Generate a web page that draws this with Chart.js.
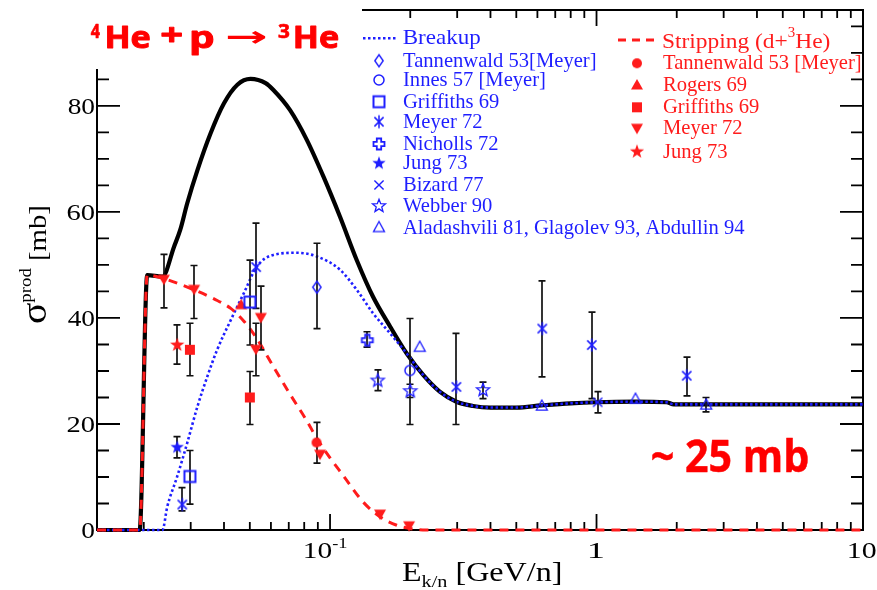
<!DOCTYPE html>
<html>
<head>
<meta charset="utf-8">
<title>4He + p -> 3He production cross section</title>
<script src="https://cdn.jsdelivr.net/npm/chart.js@4.4.1/dist/chart.umd.min.js"></script>
<style>
    html, body { margin: 0; padding: 0; background: #fff; }
    #wrap { position: relative; width: 877px; height: 590px; }
</style>
</head>
<body>
<div id="wrap"><canvas id="xsChart"></canvas></div>
<script>
// Axis ranges: kinetic energy per nucleon (GeV/n), cross section (mb)
const X_MIN = 0.01335;
const X_MAX = 10;
const Y_MIN = 0;
const Y_MAX = 98.1;

const X_MAJOR = [0.1, 1, 10];
const X_MAJOR_LABELS = [['10', '-1'], ['1', ''], ['10', '']];
const X_MINOR = [0.02, 0.03, 0.04, 0.05, 0.06, 0.07, 0.08, 0.09,
                 0.2, 0.3, 0.4, 0.5, 0.6, 0.7, 0.8, 0.9,
                 2, 3, 4, 5, 6, 7, 8, 9];
const Y_MAJOR = [0, 20, 40, 60, 80];
const Y_MAJOR_LABELS = ['0', '20', '40', '60', '80'];
const Y_MINOR = [5, 10, 15, 25, 30, 35, 45, 50, 55, 65, 70, 75, 85, 90, 95];

// Model curves
const TOTAL_E = [0.01335, 0.0193, 0.0206, 0.0235, 0.0260, 0.0274, 0.0291, 0.0318, 0.0356, 0.0400,
                 0.0449, 0.0503, 0.0573, 0.0613, 0.0708, 0.0818, 0.0944, 0.109, 0.126, 0.145,
                 0.168, 0.194, 0.224, 0.258, 0.298, 0.344, 0.40, 0.50, 0.62, 0.80,
                 1.0, 1.4, 1.83, 1.95, 3.0, 10];
const TOTAL_SIGMA = [0, 0, 48.1, 47.8, 53.5, 56.6, 61.6, 67.9, 74.8, 80.5,
                     84.0, 85.1, 84.3, 83.0, 79.2, 73.6, 66.7, 59.1, 50.9, 44.0,
                     38.4, 33.3, 29.2, 26.1, 24.2, 23.4, 23.1, 23.1, 23.5, 23.9,
                     24.1, 24.2, 24.1, 23.7, 23.7, 23.7];

const BREAKUP_E = [0.01335, 0.0235, 0.0245, 0.0267, 0.0291, 0.0318, 0.0346, 0.0377, 0.0424, 0.0475,
                   0.0533, 0.0613, 0.075, 0.0892, 0.109, 0.126, 0.145, 0.168, 0.194, 0.224,
                   0.258, 0.298, 0.344, 0.40, 0.50, 0.62, 0.80, 1.0, 1.4, 1.83,
                   1.95, 3.0, 10];
const BREAKUP_SIGMA = [0, 0, 4.4, 10.1, 16.4, 23.3, 28.9, 34.0, 39.6, 44.7,
                       49.8, 51.9, 52.3, 51.6, 49.1, 45.3, 40.9, 37.1, 33.3, 29.2,
                       26.1, 24.2, 23.4, 23.1, 23.1, 23.5, 23.9, 24.1, 24.2, 24.1,
                       23.7, 23.7, 23.7];

const STRIP_E = [0.01335, 0.0193, 0.0206, 0.0235, 0.0309, 0.0367, 0.0424, 0.0475, 0.0533, 0.0613,
                 0.0708, 0.0818, 0.0892, 0.100, 0.112, 0.133, 0.154, 0.178, 0.199, 0.223, 10];
const STRIP_SIGMA = [0, 0, 48.1, 47.5, 45.3, 43.6, 41.8, 39.4, 36.0, 30.8,
                     25.6, 20.6, 17.3, 13.6, 10.3, 5.3, 2.5, 0.9, 0.3, 0, 0];

// Measurements: [E, sigma, low, high] (low/high null when no error bar)
const B_TANNENWALD = [[0.0892, 45.8, 38.0, 54.1]];
const B_INNES = [[0.1994, 30.1, 19.9, 39.9]];
const B_GRIFFITHS = [[0.0298, 10.1, 4.9, 15.0], [0.050, 43.0, 34.9, 50.9]];
const B_MEYER = [[0.0279, 4.8, 3.6, 8.0], [0.0528, 49.6, 41.8, 57.9], [0.298, 27.0, 19.9, 37.1],
                 [0.626, 38.0, 28.9, 47.0], [0.960, 34.9, 24.8, 41.1], [2.18, 29.1, 25.3, 32.6]];
const B_NICHOLLS = [[0.138, 35.8, 34.5, 37.4]];
const B_JUNG = [[0.0267, 15.6, 13.6, 17.6]];
const B_BIZARD = [[1.01, 24.1, 22.1, 26.1]];
const B_WEBBER = [[0.151, 28.2, 26.3, 30.2], [0.200, 26.2, 25.0, 27.5], [0.375, 26.4, 24.8, 27.9]];
const B_ALADASHVILI = [[0.217, 34.5, null, null], [0.623, 23.4, null, null],
                       [1.40, 24.7, null, null], [2.58, 23.6, 22.3, 25.0]];

const R_TANNENWALD = [[0.089, 16.5, 12.6, 20.3]];
const R_ROGERS = [[0.0464, 42.5, null, null]];
const R_GRIFFITHS = [[0.0298, 34.0, 29.1, 39.0], [0.050, 25.0, 19.9, 29.9]];
const R_MEYER = [[0.0238, 47.3, 41.9, 52.0], [0.0309, 45.4, 39.9, 49.9], [0.0527, 34.1, 29.1, 39.0],
                 [0.055, 40.1, 34.0, 46.0], [0.0917, 14.3, null, null], [0.154, 3.0, null, null],
                 [0.198, 0.8, null, null]];
const R_JUNG = [[0.0267, 34.9, 31.3, 38.7]];

const BLUE = '#1e1eff';
const RED = '#ff1c1c';
const SERIF = '"Liberation Serif", "Times New Roman", serif';
const SANS = '"Open Sans", "Liberation Sans", sans-serif';

// --- marker glyphs ---
const makeMarker = (draw) => {
    const c = document.createElement('canvas');
    c.width = 24;
    c.height = 24;
    const g = c.getContext('2d');
    g.translate(12, 12);
    g.lineJoin = 'miter';
    draw(g);
    return c;
};
const shape = (g, pts) => {
    g.beginPath();
    pts.forEach(([x, y], i) => (i ? g.lineTo(x, y) : g.moveTo(x, y)));
    g.closePath();
};
const starPts = (ro, ri) => {
    const p = [];
    for (let i = 0; i < 10; i++) {
        const r = i % 2 ? ri : ro;
        const a = -Math.PI / 2 + i * Math.PI / 5;
        p.push([r * Math.cos(a), r * Math.sin(a)]);
    }
    return p;
};
const spokes = (g, angles, r) => {
    g.beginPath();
    angles.forEach(d => {
        const a = d * Math.PI / 180;
        g.moveTo(-r * Math.cos(a), -r * Math.sin(a));
        g.lineTo(r * Math.cos(a), r * Math.sin(a));
    });
};
const stroke = (g, color, w) => { g.strokeStyle = color; g.lineWidth = w; g.stroke(); };
const fill = (g, color) => { g.fillStyle = color; g.fill(); };
const crossPts = (a, l) => [[-a, -l], [a, -l], [a, -a], [l, -a], [l, a], [a, a], [a, l], [-a, l],
                            [-a, a], [-l, a], [-l, -a], [-a, -a]];

const MARKERS = {
    diamond: makeMarker(g => { shape(g, [[0, -6], [4.2, 0], [0, 6], [-4.2, 0]]); stroke(g, BLUE, 1.4); }),
    ring: makeMarker(g => { g.beginPath(); g.arc(0, 0, 5, 0, 2 * Math.PI); stroke(g, BLUE, 1.5); }),
    box: makeMarker(g => { g.beginPath(); g.rect(-5.5, -5.5, 11, 11); stroke(g, BLUE, 2); }),
    asterisk: makeMarker(g => { spokes(g, [90, 45, 135], 6.5); stroke(g, BLUE, 1.5); }),
    plusOpen: makeMarker(g => { shape(g, crossPts(2.2, 5.5)); stroke(g, BLUE, 1.8); }),
    starFilled: makeMarker(g => { shape(g, starPts(7, 2.9)); fill(g, BLUE); }),
    xCross: makeMarker(g => { spokes(g, [45, 135], 6.5); stroke(g, BLUE, 1.4); }),
    starOpen: makeMarker(g => { shape(g, starPts(6.8, 2.9)); stroke(g, BLUE, 1.3); }),
    triOpen: makeMarker(g => { shape(g, [[0, -6], [5.5, 4.2], [-5.5, 4.2]]); stroke(g, BLUE, 1.3); }),
    dotRed: makeMarker(g => { g.beginPath(); g.arc(0, 0, 5, 0, 2 * Math.PI); fill(g, RED); }),
    triRed: makeMarker(g => { shape(g, [[0, -6], [6, 4.5], [-6, 4.5]]); fill(g, RED); }),
    boxRed: makeMarker(g => { g.beginPath(); g.rect(-5, -5, 10, 10); fill(g, RED); }),
    triDownRed: makeMarker(g => { shape(g, [[0, 6], [6, -4.5], [-6, -4.5]]); fill(g, RED); }),
    starRed: makeMarker(g => { shape(g, starPts(7.5, 3)); fill(g, RED); })
};

// --- series ---
const toPoints = (xs, ys) => xs.map((x, i) => ({ x, y: ys[i] }));

const curves = [
    { label: 'Total', data: toPoints(TOTAL_E, TOTAL_SIGMA), borderColor: '#000', borderWidth: 4.2, order: 3 },
    { label: 'Breakup', data: toPoints(BREAKUP_E, BREAKUP_SIGMA), borderColor: BLUE, borderWidth: 2.6,
      borderDash: [2.5, 2.5], order: 2 },
    { label: 'Stripping (d+3He)', data: toPoints(STRIP_E, STRIP_SIGMA), borderColor: RED, borderWidth: 3,
      borderDash: [9, 7], order: 1 }
].map(c => ({ ...c, showLine: true, pointRadius: 0, cubicInterpolationMode: 'monotone', clip: false, fill: false }));

const measured = [
    { label: 'Tannenwald 53[Meyer]', rows: B_TANNENWALD, marker: MARKERS.diamond, side: 'b' },
    { label: 'Innes 57 [Meyer]', rows: B_INNES, marker: MARKERS.ring, side: 'b' },
    { label: 'Griffiths 69', rows: B_GRIFFITHS, marker: MARKERS.box, side: 'b' },
    { label: 'Meyer 72', rows: B_MEYER, marker: MARKERS.asterisk, side: 'b' },
    { label: 'Nicholls 72', rows: B_NICHOLLS, marker: MARKERS.plusOpen, side: 'b' },
    { label: 'Jung 73', rows: B_JUNG, marker: MARKERS.starFilled, side: 'b' },
    { label: 'Bizard 77', rows: B_BIZARD, marker: MARKERS.xCross, side: 'b' },
    { label: 'Webber 90', rows: B_WEBBER, marker: MARKERS.starOpen, side: 'b' },
    { label: 'Aladashvili 81, Glagolev 93, Abdullin 94', rows: B_ALADASHVILI, marker: MARKERS.triOpen, side: 'b' },
    { label: 'Tannenwald 53 [Meyer]', rows: R_TANNENWALD, marker: MARKERS.dotRed, side: 'r' },
    { label: 'Rogers 69', rows: R_ROGERS, marker: MARKERS.triRed, side: 'r' },
    { label: 'Griffiths 69', rows: R_GRIFFITHS, marker: MARKERS.boxRed, side: 'r' },
    { label: 'Meyer 72', rows: R_MEYER, marker: MARKERS.triDownRed, side: 'r' },
    { label: 'Jung 73', rows: R_JUNG, marker: MARKERS.starRed, side: 'r' }
];

const pointSets = measured.map(s => ({
    label: s.label,
    data: s.rows.map(r => ({ x: r[0], y: r[1] })),
    rows: s.rows,
    pointStyle: s.marker,
    pointRadius: 6,
    showLine: false,
    clip: false,
    order: 0
}));

const STRIP_INDEX = 2;

// --- text helper: draws runs of text, optionally stretched so the ink spans x0..x1 ---
const drawRuns = (ctx, runs, x0, baseline, color, x1, heavy = 0) => {
    ctx.save();
    ctx.textBaseline = 'alphabetic';
    ctx.textAlign = 'left';
    let adv = 0;
    let inkStart = 0;
    let inkEnd = 0;
    const widths = runs.map((r, i) => {
        ctx.font = r.font;
        const m = ctx.measureText(r.text);
        if (i === 0) inkStart = -m.actualBoundingBoxLeft;
        if (i === runs.length - 1) inkEnd = adv + m.actualBoundingBoxRight;
        adv += m.width;
        return m.width;
    });
    const sx = x1 !== undefined ? (x1 - x0) / (inkEnd - inkStart) : 1;
    ctx.translate(x0 - inkStart * sx, baseline);
    ctx.scale(sx, 1);
    ctx.fillStyle = color;
    ctx.strokeStyle = color;
    ctx.lineWidth = heavy;
    ctx.lineJoin = 'round';
    let cx = 0;
    runs.forEach((r, i) => {
        ctx.font = r.font;
        ctx.fillText(r.text, cx, r.dy || 0);
        if (heavy) ctx.strokeText(r.text, cx, r.dy || 0);
        cx += widths[i];
    });
    ctx.restore();
    return adv * sx;
};

// --- frame, inward ticks and tick labels ---
const axesFrame = {
    id: 'axesFrame',
    beforeDatasetsDraw(chart) {
        const { ctx, chartArea: a, scales: { x, y } } = chart;
        ctx.save();
        ctx.strokeStyle = '#000';
        ctx.lineWidth = 2;
        ctx.strokeRect(a.left, a.top, a.right - a.left, a.bottom - a.top);

        ctx.lineWidth = 1.8;
        ctx.beginPath();
        const xTick = (v, len) => {
            const px = x.getPixelForValue(v);
            ctx.moveTo(px, a.bottom); ctx.lineTo(px, a.bottom - len);
            ctx.moveTo(px, a.top); ctx.lineTo(px, a.top + len);
        };
        const yTick = (v, len) => {
            const py = y.getPixelForValue(v);
            ctx.moveTo(a.left, py); ctx.lineTo(a.left + len, py);
            ctx.moveTo(a.right, py); ctx.lineTo(a.right - len, py);
        };
        X_MAJOR.forEach(v => xTick(v, 16));
        X_MINOR.forEach(v => xTick(v, 8));
        Y_MAJOR.forEach(v => yTick(v, 23));
        Y_MINOR.forEach(v => yTick(v, 12));
        ctx.stroke();
        ctx.restore();

        // tick labels
        const tickFont = `24px ${SERIF}`;
        const stretch = 1.14;
        Y_MAJOR.forEach((v, i) => {
            const py = y.getPixelForValue(v);
            ctx.save();
            ctx.font = tickFont;
            const w = ctx.measureText(Y_MAJOR_LABELS[i]).width * stretch;
            ctx.restore();
            drawRuns(ctx, [{ text: Y_MAJOR_LABELS[i], font: tickFont }], 95 - w, py + 8, '#000', 95);
        });
        X_MAJOR.forEach((v, i) => {
            const px = x.getPixelForValue(v);
            const [base, exp] = X_MAJOR_LABELS[i];
            const runs = [{ text: base, font: tickFont }];
            if (exp) runs.push({ text: exp, font: `15px ${SERIF}`, dy: -10 });
            ctx.save();
            let w = 0;
            runs.forEach(r => { ctx.font = r.font; w += ctx.measureText(r.text).width; });
            ctx.restore();
            w *= stretch;
            const shift = exp ? -4 : 0;
            drawRuns(ctx, runs, px - w / 2 + shift, 558, '#000', px + w / 2 + shift);
        });
    }
};

// --- error bars, drawn above the curves and below the markers ---
const errorBars = {
    id: 'errorBars',
    afterDatasetDraw(chart, args) {
        if (args.index !== STRIP_INDEX) return;
        const { ctx, scales: { x, y } } = chart;
        ctx.save();
        ctx.strokeStyle = '#111';
        ctx.lineWidth = 1.7;
        ctx.beginPath();
        chart.data.datasets.forEach(ds => {
            if (!ds.rows) return;
            ds.rows.forEach(([e, , lo, hi]) => {
                if (lo === null) return;
                const px = Math.round(x.getPixelForValue(e));
                const pLo = y.getPixelForValue(lo);
                const pHi = y.getPixelForValue(hi);
                ctx.moveTo(px, pLo); ctx.lineTo(px, pHi);
                ctx.moveTo(px - 3.5, pLo); ctx.lineTo(px + 3.5, pLo);
                ctx.moveTo(px - 3.5, pHi); ctx.lineTo(px + 3.5, pHi);
            });
        });
        ctx.stroke();
        ctx.restore();
    }
};

// --- titles, legend and annotation ---
const decorations = {
    id: 'decorations',
    afterDraw(chart) {
        const { ctx } = chart;

        // axis titles
        drawRuns(ctx, [
            { text: 'E', font: `27px ${SERIF}` },
            { text: 'k/n', font: `17px ${SERIF}`, dy: 6 },
            { text: ' [GeV/n]', font: `27px ${SERIF}` }
        ], 402, 581, '#000', 560);

        ctx.save();
        ctx.translate(46, 323);
        ctx.rotate(-Math.PI / 2);
        drawRuns(ctx, [
            { text: 'σ', font: `36px ${SERIF}` },
            { text: 'prod', font: `17px ${SERIF}`, dy: -15 },
            { text: ' [mb]', font: `26px ${SERIF}` }
        ], 0, 0, '#000', 116);
        ctx.restore();

        // reaction label sits in a white box over the top-left corner of the frame
        ctx.save();
        ctx.fillStyle = '#fff';
        ctx.fillRect(0, 0, 362, 69);
        ctx.restore();
        const big = `bold 30px ${SANS}`;
        const sup = `bold 19px ${SANS}`;
        drawRuns(ctx, [{ text: '4', font: sup }], 90.7, 38, '#ff0000', 100, 0.6);
        drawRuns(ctx, [{ text: 'He', font: big }], 106.7, 47.5, '#ff0000', 150, 0.9);
        drawRuns(ctx, [{ text: '+', font: big }], 161.7, 45, '#ff0000', 181.7, 0.9);
        drawRuns(ctx, [{ text: 'p', font: big }], 191.7, 47.5, '#ff0000', 213.3, 0.9);
        drawRuns(ctx, [{ text: '→', font: `bold 28px "DejaVu Sans", sans-serif` }], 226.7, 46, '#ff0000', 266.7);
        drawRuns(ctx, [{ text: '3', font: sup }], 278, 38, '#ff0000', 290, 0.6);
        drawRuns(ctx, [{ text: 'He', font: big }], 295, 47.5, '#ff0000', 338.3, 0.9);

        drawRuns(ctx, [{ text: '~ 25 mb', font: `bold 45px ${SANS}` }], 651.7, 471.7, '#ff0000', 808, 0.5);

        // legend: model lines
        ctx.save();
        ctx.lineWidth = 2.6;
        ctx.strokeStyle = BLUE;
        ctx.setLineDash([2.5, 2.5]);
        ctx.beginPath(); ctx.moveTo(363, 38.3); ctx.lineTo(396, 38.3); ctx.stroke();
        ctx.lineWidth = 3;
        ctx.strokeStyle = RED;
        ctx.setLineDash([8, 6]);
        ctx.beginPath(); ctx.moveTo(618, 40); ctx.lineTo(656, 40); ctx.stroke();
        ctx.restore();
        drawRuns(ctx, [{ text: 'Breakup', font: `22px ${SERIF}` }], 402.7, 43.5, BLUE, 480.7);
        drawRuns(ctx, [
            { text: 'Stripping (d+', font: `22px ${SERIF}` },
            { text: '3', font: `14px ${SERIF}`, dy: -11 },
            { text: 'He)', font: `22px ${SERIF}` }
        ], 663, 48, RED, 830);

        // legend: data sets
        const blueRows = [60.7, 80, 101.7, 121.7, 144, 163.3, 185, 206, 227.5];
        const redRows = [63.3, 85, 107.3, 128.3, 151.7];
        let bi = 0;
        let ri = 0;
        const textFont = `20.6px ${SERIF}`;
        measured.forEach(s => {
            const isBlue = s.side === 'b';
            const yRow = isBlue ? blueRows[bi++] : redRows[ri++];
            const mx = isBlue ? 379 : 637;
            const tx = isBlue ? 403 : 663;
            ctx.drawImage(s.marker, mx - 12, yRow - 12);
            drawRuns(ctx, [{ text: s.label, font: textFont }], tx, yRow + 6, isBlue ? BLUE : RED);
        });
    }
};

const ctx = document.getElementById('xsChart').getContext('2d');
new Chart(ctx, {
    type: 'scatter',
    data: { datasets: [...curves, ...pointSets] },
    options: {
        responsive: true,
        maintainAspectRatio: false,
        animation: false,
        events: [],
        layout: { padding: { left: 97, right: 14, top: 10, bottom: 60 } },
        scales: {
            x: { type: 'logarithmic', min: X_MIN, max: X_MAX, display: false },
            y: { type: 'linear', min: Y_MIN, max: Y_MAX, display: false }
        },
        plugins: {
            legend: { display: false },
            tooltip: { enabled: false }
        }
    },
    plugins: [axesFrame, errorBars, decorations]
});
</script>
</body>
</html>
